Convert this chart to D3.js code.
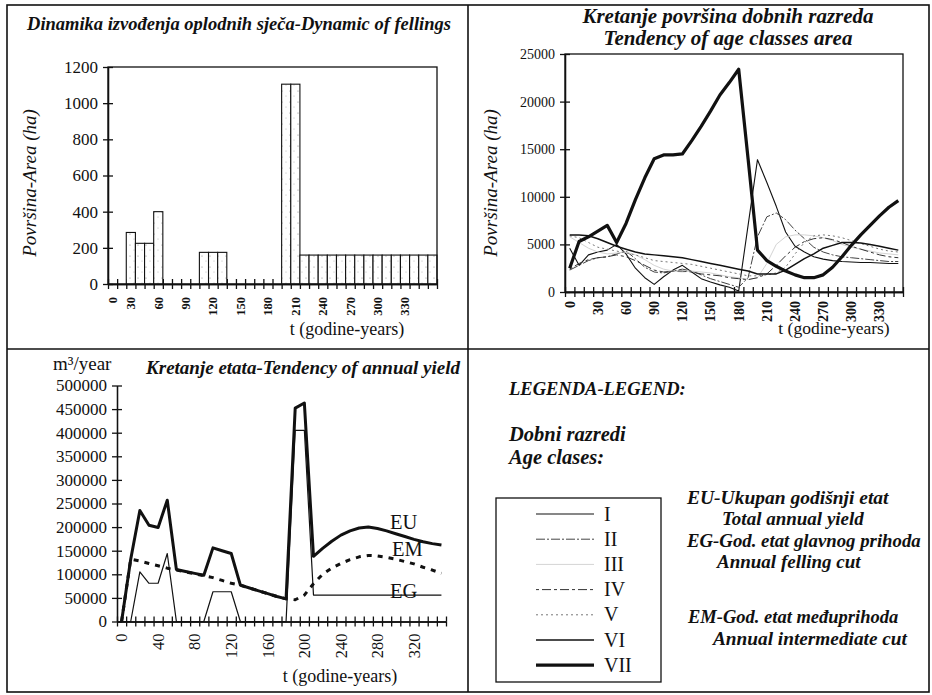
<!DOCTYPE html>
<html><head><meta charset="utf-8">
<script src="https://cdn.jsdelivr.net/npm/d3@7"></script>
<style>
body{margin:0;background:#fff;}
svg{display:block;font-family:"Liberation Serif","Times New Roman",serif;}
</style></head><body>
<svg id="c" width="932" height="695"></svg>
<script>
// ---------- DATA ----------
// Panel 1: felling area per period (ha)
const fellCats = [0,20,30,40,50,60,70,80,90,100,110,120,130,140,150,160,170,180,190,200,210,220,230,240,250,260,270,280,290,300,310,320,330,340,350,360];
const fellArea = [0,0,285,225,225,400,0,0,0,0,175,175,175,0,0,0,0,0,0,1105,1105,160,160,160,160,160,160,160,160,160,160,160,160,160,160,160];
const fellXLabels = [0,30,60,90,120,150,180,210,240,270,300,330];
const fellYTicks = [0,200,400,600,800,1000,1200];

// Panel 2: age class areas (ha)
const ageYears = [0,10,20,30,40,50,60,70,80,90,100,110,120,130,140,150,160,170,180,190,200,210,220,230,240,250,260,270,280,290,300,310,320,330,340,350];
const ageXLabels = [0,30,60,90,120,150,180,210,240,270,300,330];
const ageYTicks = [0,5000,10000,15000,20000,25000];
const ageI   = [4600,2800,3900,4200,4400,5000,4000,2500,1500,800,1600,2300,2800,2100,1400,1050,750,500,100,7000,13900,11500,9000,6300,4800,4200,3700,3450,3300,3200,3150,3100,3100,3050,3000,3000];
const ageII  = [2300,2800,3300,3600,3700,4000,4300,3500,2600,2100,2000,2200,2400,2200,1800,1400,1100,800,500,1500,5800,7900,8300,7600,6500,5600,4700,4200,3900,3700,3600,3500,3400,3300,3200,3200];
const ageIII = [5800,5200,4600,4200,4000,4100,4200,3900,3400,2800,2400,2200,2100,2200,2100,2000,1800,1600,1500,1300,1500,3000,5000,5800,6000,6000,5900,5700,5400,5000,4700,4500,4300,4100,4000,3900];
const ageIV  = [2400,3000,3400,3600,3700,3900,3700,3300,2800,2300,2100,2200,2200,2100,1900,1800,1700,1500,1400,1300,1500,1900,2800,3800,4700,5300,5600,5700,5500,5200,4800,4500,4200,3900,3700,3600];
const ageV   = [5900,5700,5200,4700,4500,4300,4100,3900,3600,3300,3200,3100,3000,2900,2700,2500,2300,2100,1900,1700,1700,1800,2000,2600,4000,5200,5900,6000,5900,5700,5400,5100,4800,4500,4300,4200];
const ageVI  = [6000,6000,5900,5600,5200,4800,4500,4200,4000,3900,3800,3700,3600,3400,3200,3000,2800,2600,2400,2200,1900,1900,1900,2300,2900,3500,4000,4600,4900,5200,5200,5150,5000,4800,4600,4400];
const ageVII = [2500,5300,5800,6400,7000,5200,7200,9700,12000,14000,14400,14400,14500,15900,17400,19000,20700,22000,23400,14000,4400,3300,2700,2200,1800,1500,1500,1800,2600,3700,4900,6000,7000,8000,8900,9600];
const ageNames = ["I","II","III","IV","V","VI","VII"];

// Panel 3: annual yield (m3/year)
const yieldYears = [0,10,20,30,40,50,60,70,80,90,100,110,120,130,140,150,160,170,180,190,200,210,220,230,240,250,260,270,280,290,300,310,320,330,340,350];
const yieldXLabels = [0,40,80,120,160,200,240,280,320];
const yieldYTicks = [0,50000,100000,150000,200000,250000,300000,350000,400000,450000,500000];
const yieldEU = [0,132000,235000,204000,199000,257000,110000,106000,102000,98000,156000,150000,144000,77000,71000,65000,59000,53000,48000,452000,463000,138000,155000,170000,183000,192000,198000,200000,197000,192000,186000,180000,174000,169000,165000,162000];
const yieldEM = [0,132000,128000,123000,118000,113000,109000,105000,101000,97000,93000,87000,81000,77000,71000,65000,59000,53000,48000,46000,56000,80000,100000,113000,123000,131000,137000,140000,139000,136000,132000,127000,122000,115000,109000,102000];
const yieldEG = [0,0,105000,81000,81000,144000,0,0,0,0,63000,63000,63000,0,0,0,0,0,0,405000,405000,56000,56000,56000,56000,56000,56000,56000,56000,56000,56000,56000,56000,56000,56000,56000];

// ---------- DRAWING ----------
const ink = "#111";
const SERIF = "'Liberation Serif','Times New Roman',serif";
const svg = d3.select("#c");

const defs = svg.append("defs");
const pat = defs.append("pattern").attr("id","dots").attr("patternUnits","userSpaceOnUse")
  .attr("width",8).attr("height",11);
pat.append("rect").attr("width",8).attr("height",11).attr("fill","#fff");
pat.append("circle").attr("cx",2).attr("cy",3).attr("r",0.6).attr("fill","#888");
pat.append("circle").attr("cx",6).attr("cy",8).attr("r",0.5).attr("fill","#aaa");

// panel frame
const frame = svg.append("g").attr("stroke",ink).attr("stroke-width",1.6).attr("fill","none");
frame.append("rect").attr("x",7).attr("y",5).attr("width",922).attr("height",687);
frame.append("line").attr("x1",468).attr("x2",468).attr("y1",5).attr("y2",692);
frame.append("line").attr("x1",7).attr("x2",929).attr("y1",349).attr("y2",349);

function styleAxis(g, fs, weight){
  g.attr("font-family", SERIF).attr("font-size", fs).attr("font-weight", weight||"normal");
  g.selectAll("path,line").attr("stroke", ink).attr("stroke-width",1.3);
  g.selectAll("text").attr("fill", ink);
}

function makeAxes(o){
  const x = d3.scaleBand().domain(o.cats).range([o.x0,o.x1]).paddingInner(0).paddingOuter(0);
  const y = d3.scaleLinear().domain([0,o.ymax]).range([o.y0,o.y1]);
  const edge = d3.scaleLinear().domain([0,o.cats.length]).range([o.x0,o.x1]);
  const n = o.cats.length;
  [5,-5].forEach(s=>{
    const g = svg.append("g").attr("transform",`translate(0,${o.y0})`)
      .call(d3.axisBottom(edge).tickValues(d3.range(n+1)).tickFormat("").tickSize(s).tickSizeOuter(0));
    styleAxis(g, 12);
  });
  const gl = svg.append("g").attr("transform",`translate(0,${o.y0})`)
    .call(d3.axisBottom(x).tickValues(o.labels).tickSize(0).tickPadding(0));
  styleAxis(gl, o.xfs, o.xfw);
  gl.select(".domain").remove();
  gl.selectAll("text").attr("transform","rotate(-90)").attr("text-anchor","end")
    .attr("x",-o.labGap).attr("y",0).attr("dy","0.35em");
  [5,-5].forEach((s,i)=>{
    const g = svg.append("g").attr("transform",`translate(${o.x0},0)`)
      .call(d3.axisLeft(y).tickValues(o.yticks).tickSize(s).tickSizeOuter(0).tickPadding(5)
        .tickFormat(i===0 ? d3.format("d") : ""));
    styleAxis(g, o.yfs);
  });
  return {x,y,bw:x.bandwidth()};
}

// ---------- Panel 1: bars ----------
{
  const a = makeAxes({cats:fellCats,x0:108,x1:437,y0:284,y1:67,ymax:1200,labels:fellXLabels,
    yticks:fellYTicks,xfs:12.5,xfw:"bold",yfs:17,labGap:13});
  svg.append("g").selectAll("rect").data(fellCats.map((c,i)=>({c,v:fellArea[i]})).filter(d=>d.v>0))
    .join("rect")
    .attr("x",d=>a.x(d.c)).attr("width",a.bw)
    .attr("y",d=>a.y(d.v)).attr("height",d=>a.y(0)-a.y(d.v))
    .attr("fill","url(#dots)").attr("stroke",ink).attr("stroke-width",1.1);
  svg.append("rect").attr("x",108).attr("y",67).attr("width",329).attr("height",217)
    .attr("fill","none").attr("stroke",ink).attr("stroke-width",1.3);
  svg.append("text").attr("x",239).attr("y",30).attr("text-anchor","middle")
    .attr("font-weight","bold").attr("font-style","italic").attr("font-size",18.5).attr("fill",ink)
    .text("Dinamika izvođenja oplodnih sječa-Dynamic of fellings");
  svg.append("text").attr("transform","translate(36,183) rotate(-90)").attr("text-anchor","middle")
    .attr("font-style","italic").attr("font-size",19).attr("fill",ink).text("Površina-Area (ha)");
  svg.append("text").attr("x",347).attr("y",335).attr("text-anchor","middle")
    .attr("font-size",18).attr("fill",ink).text("t (godine-years)");
}

// ---------- Panel 2: age classes ----------
const ageSeries = [ageI,ageII,ageIII,ageIV,ageV,ageVI,ageVII];
const ageStyles = [
  {c:ink, w:1.1, d:null},
  {c:"#444", w:1.0, d:"9,2,2,2"},
  {c:"#d4d4d4", w:1.0, d:null},
  {c:"#333", w:1.0, d:"3,3,9,3"},
  {c:"#777", w:1.0, d:"2,3"},
  {c:ink, w:1.5, d:null},
  {c:ink, w:3.2, d:null}
];
{
  const a = makeAxes({cats:ageYears,x0:565,x1:903,y0:292,y1:54,ymax:25000,labels:ageXLabels,
    yticks:ageYTicks,xfs:14,xfw:"bold",yfs:14,labGap:9});
  svg.append("rect").attr("x",565).attr("y",54).attr("width",338).attr("height",238)
    .attr("fill","none").attr("stroke",ink).attr("stroke-width",1.3);
  const line = d3.line().x((d,i)=>a.x(ageYears[i])+a.bw/2).y(d=>a.y(d));
  svg.append("g").selectAll("path").data(ageSeries).join("path")
    .attr("d",line).attr("fill","none")
    .attr("stroke",(d,i)=>ageStyles[i].c).attr("stroke-width",(d,i)=>ageStyles[i].w)
    .attr("stroke-dasharray",(d,i)=>ageStyles[i].d).attr("stroke-linejoin","round");
  const t = svg.append("text").attr("text-anchor","middle").attr("font-weight","bold")
    .attr("font-style","italic").attr("font-size",21).attr("fill",ink);
  t.append("tspan").attr("x",728).attr("y",23).text("Kretanje površina dobnih razreda");
  t.append("tspan").attr("x",728).attr("y",45).text("Tendency of age classes area");
  svg.append("text").attr("transform","translate(497,183) rotate(-90)").attr("text-anchor","middle")
    .attr("font-style","italic").attr("font-size",19).attr("fill",ink).text("Površina-Area (ha)");
  svg.append("text").attr("x",834).attr("y",334).attr("text-anchor","middle")
    .attr("font-size",17.5).attr("fill",ink).text("t (godine-years)");
}

// ---------- Panel 3: annual yield ----------
{
  const a = makeAxes({cats:yieldYears,x0:117,x1:446,y0:621.5,y1:385.5,ymax:500000,labels:yieldXLabels,
    yticks:yieldYTicks,xfs:16.5,xfw:"normal",yfs:17,labGap:12});
  const line = d3.line().x((d,i)=>a.x(yieldYears[i])+a.bw/2).y(d=>a.y(d));
  const series = [
    {v:yieldEU, w:3, d:null},
    {v:yieldEM, w:3, d:"5,6"},
    {v:yieldEG, w:1.2, d:null}
  ];
  svg.append("g").selectAll("path").data(series).join("path")
    .attr("d",d=>line(d.v)).attr("fill","none").attr("stroke",ink)
    .attr("stroke-width",d=>d.w).attr("stroke-dasharray",d=>d.d).attr("stroke-linejoin","round");
  const lab = svg.append("g").attr("font-size",20.5).attr("fill",ink);
  lab.append("text").attr("x",390).attr("y",529).text("EU");
  lab.append("text").attr("x",392).attr("y",556).text("EM");
  lab.append("text").attr("x",390).attr("y",598).text("EG");
  svg.append("text").attr("x",303).attr("y",374).attr("text-anchor","middle")
    .attr("font-weight","bold").attr("font-style","italic").attr("font-size",19).attr("fill",ink)
    .text("Kretanje etata-Tendency of annual yield");
  svg.append("text").attr("x",53).attr("y",370).attr("font-size",19).attr("fill",ink).text("m³/year");
  svg.append("text").attr("x",340).attr("y",682).attr("text-anchor","middle")
    .attr("font-size",18).attr("fill",ink).text("t (godine-years)");
}

// ---------- Panel 4: legend ----------
{
  const g = svg.append("g").attr("fill",ink);
  const bi = (x,y,s,txt)=>g.append("text").attr("x",x).attr("y",y).attr("font-weight","bold")
    .attr("font-style","italic").attr("font-size",s).text(txt);
  bi(509,395,18.5,"LEGENDA-LEGEND:");
  bi(509,441,20.5,"Dobni razredi");
  bi(509,464,20.5,"Age clases:");
  bi(687,504,19.5,"EU-Ukupan godišnji etat");
  bi(722,525,19,"Total annual yield");
  bi(687,547,18.8,"EG-God. etat glavnog prihoda");
  bi(717,568,19,"Annual felling cut");
  bi(688,623,18.5,"EM-God. etat međuprihoda");
  bi(713,645,19.3,"Annual intermediate cut");
  svg.append("rect").attr("x",496).attr("y",498).attr("width",165).attr("height",184)
    .attr("fill","none").attr("stroke",ink).attr("stroke-width",1.3);
  const rows = svg.append("g").selectAll("g").data(ageNames).join("g")
    .attr("transform",(d,i)=>`translate(0,${514+25.2*i})`);
  rows.append("line").attr("x1",536).attr("x2",594).attr("y1",0).attr("y2",0)
    .attr("stroke",(d,i)=>ageStyles[i].c).attr("stroke-width",(d,i)=>ageStyles[i].w)
    .attr("stroke-dasharray",(d,i)=>ageStyles[i].d);
  rows.append("text").attr("x",604).attr("y",6.5).attr("font-size",20).attr("fill",ink).text(d=>d);
}
</script>
</body></html>
